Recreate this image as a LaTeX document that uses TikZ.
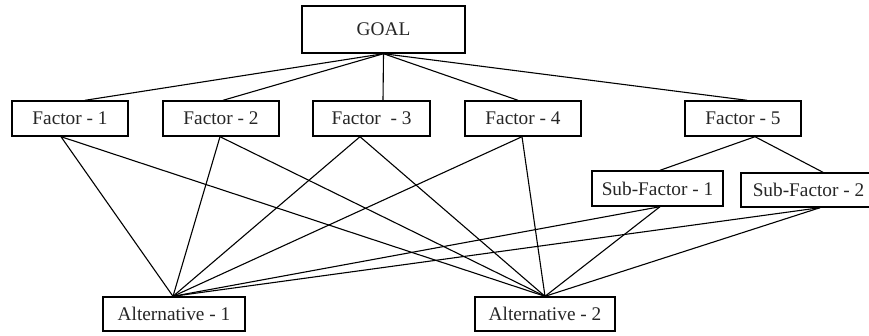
\documentclass[tikz,border=0pt]{standalone}
\usepackage{fontspec}
\setmainfont{Liberation Serif}
\begin{document}
\begin{tikzpicture}[x=1pt,y=-1pt,
  box/.style={draw=black,line width=1.4pt,fill=white,inner sep=0pt,
    font=\fontsize{19.3}{21}\selectfont,text=black!85},
  link/.style={draw=black,line width=1.1pt}]
\useasboundingbox (0,0) rectangle (869,335);
\clip (0,0) rectangle (869,335);
\node[box,minimum width=163pt,minimum height=47pt] (goal) at (383.5,29.5) {GOAL};
\node[box,minimum width=116pt,minimum height=35pt] (f1) at (70,118.5) {Factor - 1};
\node[box,minimum width=116pt,minimum height=35pt] (f2) at (221,118.5) {Factor - 2};
\node[box,minimum width=117pt,minimum height=35pt] (f3) at (371.5,118.5) {Factor \ - 3};
\node[box,minimum width=116pt,minimum height=35pt] (f4) at (523,118.5) {Factor - 4};
\node[box,minimum width=116pt,minimum height=35pt] (f5) at (743,118.5) {Factor - 5};
\node[box,minimum width=131pt,minimum height=35pt] (sf1) at (657.5,188.5) {Sub-Factor - 1};
\node[box,minimum width=135pt,minimum height=34pt] (sf2) at (808.5,190) {Sub-Factor - 2};
\node[box,minimum width=142pt,minimum height=34pt] (a1) at (174,314) {Alternative - 1};
\node[box,minimum width=140pt,minimum height=34pt] (a2) at (545,314) {Alternative - 2};
% goal to factors
\draw[link] (goal.south) -- ([xshift=15pt]f1.north);
\draw[link] (goal.south) -- ([xshift=2pt]f2.north);
\draw[link] (goal.south) -- ([xshift=11.5pt]f3.north);
\draw[link] (goal.south) -- ([xshift=-5pt]f4.north);
\draw[link] (goal.south) -- ([xshift=4pt]f5.north);
% factor 5 to sub-factors
\draw[link] ([xshift=12pt]f5.south) -- ([xshift=2.5pt]sf1.north);
\draw[link] ([xshift=12pt]f5.south) -- ([xshift=14.5pt]sf2.north);
% factors to alternatives
\foreach \n/\s in {f1/-9,f2/-1,f3/-11.5,f4/-1,sf1/2.5,sf2/11.5}{
  \draw[link] ([xshift=\s pt]\n.south) -- ([xshift=-1pt]a1.north);
  \draw[link] ([xshift=\s pt]\n.south) -- (a2.north);
}
\end{tikzpicture}
\end{document}
